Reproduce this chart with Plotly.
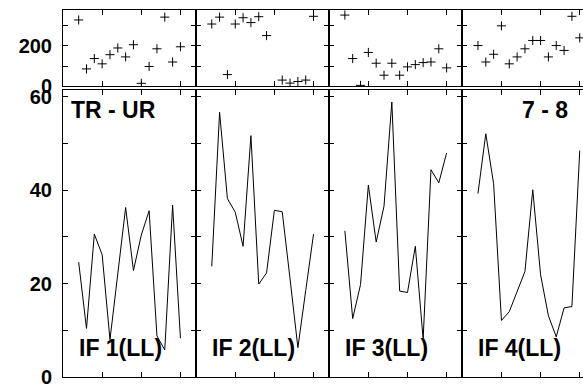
import plotly.graph_objects as go

# ---- data ----
x_vals = list(range(2, 16))
panel_names = ["IF 1(LL)", "IF 2(LL)", "IF 3(LL)", "IF 4(LL)"]

top_if1 = [327, 86, 137, 111, 156, 189, 145, 205, 15, 98, 185, 341, 120, 195]
top_if2 = [307, 341, 58, 307, 338, 314, 343, 250, None, 31, 16, 24, 31, 345]
top_if3 = [351, 137, 5, 167, 114, 55, 114, 55, 96, 107, 117, 120, 185, 91]
top_if4 = [201, 120, 158, 298, 111, 145, 185, 226, 226, 145, 201, 177, 345, 239]

line_if1 = [24.6, 10.4, 30.6, 26.2, 8.0, 22.0, 36.3, 22.8, 30.4, 35.6, 8.8, 5.8, 36.8, 8.3]
line_if2 = [23.7, 56.7, 38.2, 35.3, 28.0, 51.7, 19.9, 22.3, 35.7, 35.4, 21.0, 6.3, 18.5, 30.6]
line_if3 = [31.3, 12.5, 19.8, 41.1, 28.9, 36.6, 58.9, 18.4, 18.1, 28.0, 8.1, 44.4, 41.6, 48.0]
line_if4 = [39.3, 52.1, 41.4, 12.1, 14.0, 18.3, 22.6, 40.1, 21.9, 13.1, 8.6, 14.8, 15.1, 48.5]

top_series = [top_if1, top_if2, top_if3, top_if4]
line_series = [line_if1, line_if2, line_if3, line_if4]

top_tickvals = [0, 100, 200, 300]
top_ticktext = ["0", "", "200", ""]
bot_tickvals = [0, 10, 20, 30, 40, 50, 60]
bot_ticktext = ["0", "", "20", "", "40", "", "60"]
x_tickvals = [5, 10, 15]

# ---- geometry (page pixels; body margin removed by post_script) ----
W, H = 583, 388
L, T, B = 63, 10, 8
PW = W - L
panel_w = 133.1
px_per_unit = panel_w / 17.0
lefts = [L + panel_w * i for i in range(4)]

def fx(p):
    return (p - L) / PW

PH = H - T - B
def fy(p):
    return (H - B - p) / PH

top_dom = [fy(87), 1.0]
bot_dom = [0.0, fy(91)]

fig = go.Figure()
tick_font = dict(family="Liberation Sans, Arial, sans-serif", size=20, color="black", weight="bold")

layout = dict(
    width=W, height=H,
    margin=dict(l=L, r=0, t=T, b=B, pad=0),
    paper_bgcolor="white", plot_bgcolor="white",
    showlegend=False,
)

for i in range(4):
    left = lefts[i]
    right = min(left + panel_w, W)
    dom = [fx(left), fx(right)]
    xr = [0, (right - left) / px_per_unit]
    last = (i == 3)
    for ax_idx, ydom, yr, tv, tt in [
        (i + 1, top_dom, [0, 376], top_tickvals, top_ticktext),
        (i + 5, bot_dom, [0, 61.4], bot_tickvals, bot_ticktext),
    ]:
        xa = "xaxis" if ax_idx == 1 else f"xaxis{ax_idx}"
        ya = "yaxis" if ax_idx == 1 else f"yaxis{ax_idx}"
        layout[xa] = dict(
            domain=dom, range=xr, anchor=f"y{ax_idx}" if ax_idx > 1 else "y",
            tickvals=x_tickvals, ticks="inside", ticklen=5, tickwidth=1, tickcolor="black",
            showticklabels=False, showline=True, linecolor="black", linewidth=1,
            mirror="ticks", showgrid=False, zeroline=False,
        )
        layout[ya] = dict(
            domain=ydom, range=yr, anchor=f"x{ax_idx}" if ax_idx > 1 else "x",
            tickvals=tv, ticktext=tt, ticks="inside", ticklen=5, tickwidth=1, tickcolor="black",
            showticklabels=(i == 0), tickfont=tick_font, ticklabelstandoff=6,
            ticklabeloverflow="allow",
            showline=True, linecolor="black", linewidth=1,
            mirror=False if last else "ticks", showgrid=False, zeroline=False,
        )

    xs = "x" if i == 0 else f"x{i+1}"
    ys = "y" if i == 0 else f"y{i+1}"
    fig.add_trace(go.Scatter(
        x=x_vals, y=top_series[i], mode="markers", xaxis=xs, yaxis=ys,
        marker=dict(symbol="cross-thin", size=6.5, color="black",
                    line=dict(width=1, color="black")),
        cliponaxis=True, hoverinfo="skip",
    ))
    fig.add_trace(go.Scatter(
        x=x_vals, y=line_series[i], mode="lines", xaxis=f"x{i+5}", yaxis=f"y{i+5}",
        line=dict(color="black", width=1), hoverinfo="skip",
    ))

ann_font = dict(family="Liberation Sans, Arial, sans-serif", size=23, color="black", weight="bold")
annotations = [
    dict(text="TR - UR", xref="paper", yref="paper", x=fx(68.5), y=fy(111.3),
         xanchor="left", yanchor="middle", showarrow=False, font=ann_font),
    dict(text="7 - 8", xref="paper", yref="paper", x=fx(570), y=fy(111.3),
         xanchor="right", yanchor="middle", showarrow=False, font=ann_font),
]
for i in range(4):
    annotations.append(dict(text=panel_names[i], xref="paper", yref="paper",
                            x=fx(lefts[i] + 13.5), y=fy(350.3), xanchor="left", yanchor="middle",
                            showarrow=False, font=ann_font))
layout["annotations"] = annotations

fig.update_layout(**layout)
fig.write_html(
    "out.html",
    config={"displayModeBar": False},
    post_script="document.body.style.margin='0';document.body.style.overflow='hidden';",
)
